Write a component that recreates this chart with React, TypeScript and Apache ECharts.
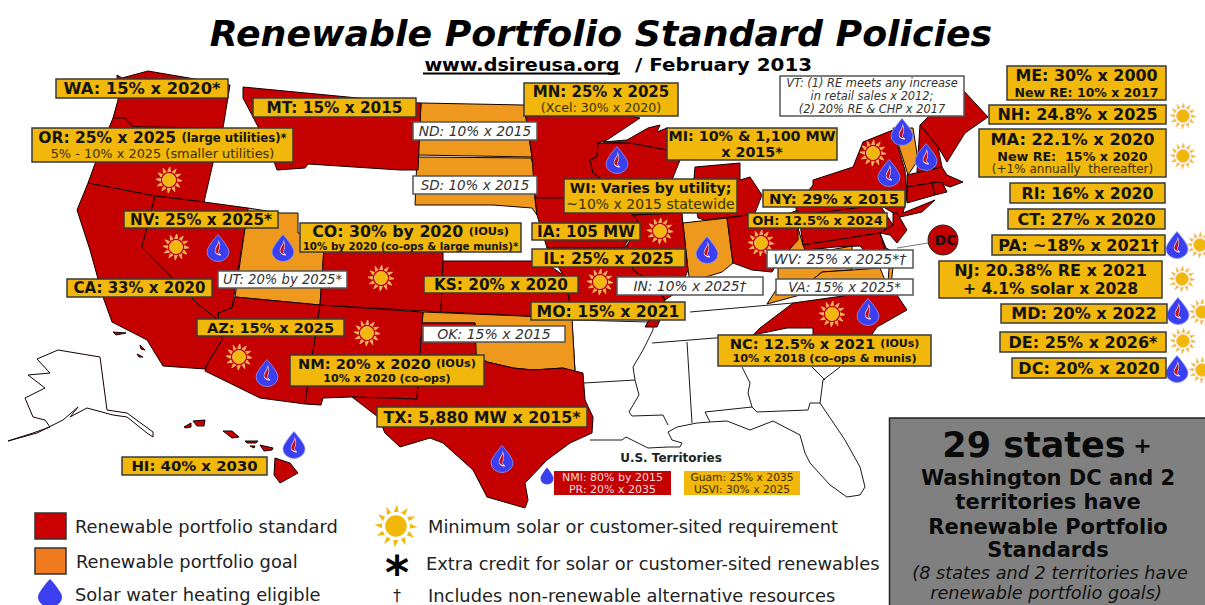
import React, { useEffect, useRef } from "react";
import * as echarts from "echarts";

const FONT = "'DejaVu Sans', Verdana, sans-serif";
const RED = "#c40000";
const ORANGE = "#ee981e";
const GOLD = "#f1b70a";
const INK = "#141414";

type P = [number, number];

// ---- state outlines, in picture units
const standardStates: Record<string, P[]> = {
  WA: [[117,75],[122,78],[148,71],[230,85],[223,128],[133,127],[125,118],[113,118],[118,100]],
  OR: [[113,118],[125,118],[133,127],[223,128],[213,163],[204,202],[155,196],[88,183],[100,150]],
  CA: [[88,183],[155,196],[142,247],[197,303],[218,320],[218,313],[222,340],[208,363],[205,369],[163,366],[147,340],[112,322],[103,297],[90,250],[77,210]],
  NV: [[155,196],[204,202],[248,208],[232,308],[218,313],[218,320],[197,303],[142,247]],
  AZ: [[235,297],[320,305],[305,404],[260,398],[205,371],[208,363],[222,340],[218,313],[232,308]],
  NM: [[320,305],[423,312],[417,399],[352,397],[323,398],[321,405],[305,404]],
  CO: [[325,232],[443,240],[443,262],[441,312],[320,305]],
  KS: [[443,261],[533,261],[553,268],[563,275],[568,293],[572,318],[441,312]],
  MT: [[243,87],[400,102],[421,103],[418,170],[400,170],[308,164],[305,168],[277,170],[270,150],[253,117],[243,98]],
  TX: [[352,397],[417,399],[422,323],[475,323],[476,355],[487,362],[513,368],[533,370],[563,368],[583,373],[585,400],[593,417],[592,433],[570,443],[547,460],[525,483],[528,500],[525,508],[487,497],[473,470],[443,443],[430,438],[400,447],[385,433],[378,417]],
  MN: [[524,105],[600,110],[640,118],[607,140],[598,143],[597,157],[590,160],[593,173],[600,178],[612,198],[535,198],[532,157],[530,143]],
  WI: [[598,143],[630,143],[667,150],[680,160],[672,180],[675,205],[668,213],[633,215],[612,198],[600,178],[593,173],[590,160],[597,157]],
  MI_UP: [[603,142],[627,140],[648,128],[660,125],[657,132],[667,128],[700,135],[680,150],[667,150],[630,143]],
  MI: [[695,167],[740,163],[740,180],[750,177],[762,195],[755,213],[748,215],[705,220],[698,218],[693,190]],
  IA: [[535,198],[612,198],[633,215],[640,225],[627,242],[623,248],[547,248],[537,215]],
  IL: [[633,215],[682,213],[683,225],[688,270],[680,290],[665,300],[655,285],[633,270],[627,245],[640,225]],
  MO: [[547,248],[623,248],[627,245],[633,270],[655,285],[665,300],[660,320],[657,327],[645,327],[649,320],[572,318],[568,293],[563,275],[553,258]],
  OH: [[727,218],[748,215],[785,215],[798,210],[798,240],[778,262],[772,272],[752,270],[733,263]],
  PA: [[798,210],[880,205],[893,225],[880,233],[803,245]],
  NY: [[795,207],[813,185],[813,180],[853,167],[863,142],[893,130],[905,170],[907,197],[903,213],[935,200],[922,212],[900,217],[880,205],[800,215]],
  NJ: [[893,213],[897,213],[907,230],[897,243],[890,235],[880,233],[893,225]],
  MD: [[803,245],[880,233],[885,250],[890,262],[878,258],[868,255],[860,246],[835,247],[805,250]],
  DE: [[880,233],[886,248],[890,250],[885,250]],
  NC: [[753,335],[760,328],[793,303],[850,295],[897,295],[907,310],[877,327],[868,340],[813,340],[813,328],[787,328]],
  ME: [[920,125],[930,115],[945,105],[963,90],[988,117],[965,133],[947,162],[938,147]],
  NH: [[920,125],[938,147],[942,167],[917,172],[918,155]],
  MA: [[907,175],[942,167],[947,175],[963,182],[950,187],[937,182],[907,187]],
  CT: [[907,187],[932,183],[935,195],[907,203]],
  RI: [[932,183],[942,182],[947,192],[935,195]],
  HI_Niihau: [[184,427],[191,423],[191,427],[186,428]],
  HI_Kauai: [[193,421],[205,420],[204,426],[197,426]],
  HI_Oahu: [[223,431],[232,431],[239,437],[232,438]],
  HI_Molokai: [[245,441],[258,441],[256,443],[247,443]],
  HI_Lanai: [[250,446],[255,446],[254,448]],
  HI_Maui: [[260,445],[273,448],[272,450],[264,451]],
  HI_Big: [[275,458],[290,463],[298,473],[280,483],[274,475]],
  CA_Isle1: [[113,332],[126,333],[116,335]],
  CA_Isle2: [[140,345],[145,350],[141,349]],
  CA_Isle3: [[137,354],[143,357],[139,357]],
};

const goalStates: Record<string, P[]> = {
  ND: [[421,103],[524,105],[530,143],[532,157],[418,155]],
  SD: [[417,157],[531,158],[535,170],[535,198],[537,215],[532,208],[493,205],[415,205]],
  UT: [[248,208],[280,213],[298,213],[298,233],[325,237],[320,305],[235,297]],
  OK: [[423,312],[572,318],[575,372],[563,368],[533,370],[513,368],[487,362],[476,355],[475,323],[422,323]],
  IN: [[683,223],[727,218],[733,263],[722,272],[690,282],[688,270]],
  WV: [[798,228],[803,245],[830,250],[852,246],[852,270],[822,272],[800,290],[778,280],[778,262],[797,240]],
  VA: [[767,304],[776,290],[800,290],[822,272],[852,270],[880,268],[887,285],[865,295],[800,295]],
  VA_Shore: [[889,268],[893,268],[891,284],[888,283]],
  VT: [[893,128],[913,128],[918,160],[908,175],[905,165]],
};

const akOutline: P[] = [[8,441],[33,433],[50,427],[45,420],[33,417],[25,398],[45,388],[28,375],[50,373],[37,359],[58,350],[100,357],[107,410],[127,413],[153,432],[153,437],[147,433],[127,417],[113,415],[87,408],[70,417],[78,407],[63,420],[37,433],[8,441]];

const southernLines: P[][] = [
  [[572,322],[575,370]],
  [[572,320],[649,322]],
  [[584,383],[635,380]],
  [[653,320],[653,330],[643,350],[633,367],[635,380],[639,395],[629,412],[632,416],[663,415],[668,425]],
  [[652,343],[753,335]],
  [[690,312],[793,303]],
  [[687,342],[692,423]],
  [[590,440],[622,440],[626,437],[648,448],[668,447],[680,447],[682,443],[672,440],[668,432],[677,427],[697,423],[710,422],[727,421],[750,430],[773,421],[800,435],[805,453],[810,463],[830,485],[847,497],[860,495],[865,487],[860,467],[845,440],[820,403],[823,380],[840,367]],
  [[705,412],[752,407],[757,412],[808,410],[810,403],[820,403]],
  [[705,412],[710,422]],
  [[742,367],[750,383],[748,393],[752,407]],
  [[812,367],[825,380]],
];

// ---- icon positions
const sunPoints: P[] = [[169,180],[176,247],[381,278],[239,357],[367,333],[660,231],[600,282],[761,243],[873,153],[832,314],[1183,116],[1183,156],[1200,245],[1182,279],[1202,312],[1183,341],[1202,370]];
const dropPoints: P[] = [[218,248],[283,248],[617,160],[707,250],[889,173],[902,132],[926,157],[868,312],[267,373],[502,459],[294,445],[1177,245],[1178,311],[1177,369]];
const smallDropPoints: P[] = [[547,476]];
const legendSunPoints: P[] = [[396,526]];
const legendDropPoints: P[] = [[50,593]];

// ---- texts
const titleText = "Renewable Portfolio Standard Policies";
const siteText = "www.dsireusa.org";
const dateText = "/ February 2013";
const territoriesTitle = "U.S. Territories";
const legendTexts = ["Renewable portfolio standard", "Renewable portfolio goal", "Solar water heating eligible", "Minimum solar or customer-sited requirement", "Extra credit for solar or customer-sited renewables", "Includes non-renewable alternative resources"];
const summaryLines = ["Washington DC and 2", "territories have", "Renewable Portfolio", "Standards"];
const summaryNotes = ["(8 states and 2 territories have", "renewable portfolio goals)"];

type Line = { t: string; s: number; y: number; b?: boolean; i?: boolean; extra?: string; es?: number; eb?: boolean; c?: string };
type Box = { box: [number, number, number, number]; kind: "gold" | "white" | "red" | "goldFlat"; lines: Line[] };

const policyBoxes: Box[] = [
  { box: [56,79,172,19], kind: "gold", lines: [{ t: "WA: 15% x 2020*", s: 16.3, y: 0, b: true }] },
  { box: [253,98,163,19], kind: "gold", lines: [{ t: "MT: 15% x 2015", s: 15.3, y: 0, b: true }] },
  { box: [32,128,261,34], kind: "gold", lines: [{ t: "OR: 25% x 2025 ", s: 15.5, y: -7, b: true, extra: "(large utilities)*", es: 11.7, eb: true }, { t: "5% - 10% x 2025 (smaller utilities)", s: 12.9, y: 8 }] },
  { box: [124,211,154,17], kind: "gold", lines: [{ t: "NV: 25% x 2025*", s: 15.2, y: 0, b: true }] },
  { box: [300,223,221,29], kind: "gold", lines: [{ t: "CO: 30% by 2020 ", s: 15.8, y: -6, b: true, extra: "(IOUs)", es: 11.3, eb: true }, { t: "10% by 2020 (co-ops & large munis)*", s: 10.3, y: 8, b: true }] },
  { box: [218,271,129,17], kind: "white", lines: [{ t: "UT: 20% by 2025*", s: 13.2, y: 0, i: true }] },
  { box: [67,279,145,18], kind: "gold", lines: [{ t: "CA: 33% x 2020", s: 15, y: 0, b: true }] },
  { box: [197,319,147,17], kind: "gold", lines: [{ t: "AZ: 15% x 2025", s: 14.5, y: 0, b: true }] },
  { box: [290,355,194,31], kind: "gold", lines: [{ t: "NM: 20% x 2020 ", s: 14.6, y: -7, b: true, extra: "(IOUs)", es: 11.3, eb: true }, { t: "10% x 2020 (co-ops)", s: 11.1, y: 8, b: true }] },
  { box: [377,407,210,20], kind: "gold", lines: [{ t: "TX: 5,880 MW x 2015*", s: 15.8, y: 0, b: true }] },
  { box: [122,457,145,18], kind: "gold", lines: [{ t: "HI: 40% x 2030", s: 14.9, y: 0, b: true }] },
  { box: [413,122,124,18], kind: "white", lines: [{ t: "ND: 10% x 2015", s: 13.8, y: 0, i: true }] },
  { box: [413,176,124,18], kind: "white", lines: [{ t: "SD: 10% x 2015", s: 13.5, y: 0, i: true }] },
  { box: [524,83,154,33], kind: "gold", lines: [{ t: "MN: 25% x 2025", s: 15, y: -8, b: true }, { t: "(Xcel: 30% x 2020)", s: 12.6, y: 8 }] },
  { box: [564,179,173,34], kind: "gold", lines: [{ t: "WI: Varies by utility;", s: 14, y: -8, b: true }, { t: "~10% x 2015 statewide", s: 14, y: 8 }] },
  { box: [667,128,170,32], kind: "gold", lines: [{ t: "MI: 10% & 1,100 MW", s: 14.3, y: -8, b: true }, { t: "x 2015*", s: 14.3, y: 8, b: true }] },
  { box: [532,223,108,17], kind: "gold", lines: [{ t: "IA: 105 MW", s: 15.2, y: 0, b: true }] },
  { box: [532,249,153,18], kind: "gold", lines: [{ t: "IL: 25% x 2025", s: 15.8, y: 0, b: true }] },
  { box: [424,276,154,17], kind: "gold", lines: [{ t: "KS: 20% x 2020", s: 15.3, y: 0, b: true }] },
  { box: [617,277,146,18], kind: "white", lines: [{ t: "IN: 10% x 2025†", s: 13.8, y: 0, i: true }] },
  { box: [531,302,154,18], kind: "gold", lines: [{ t: "MO: 15% x 2021", s: 15.7, y: 0, b: true }] },
  { box: [423,326,142,16], kind: "white", lines: [{ t: "OK: 15% x 2015", s: 14, y: 0, i: true }] },
  { box: [763,190,142,17], kind: "gold", lines: [{ t: "NY: 29% x 2015", s: 14.9, y: 0, b: true }] },
  { box: [748,213,139,15], kind: "gold", lines: [{ t: "OH: 12.5% x 2024", s: 13, y: 0, b: true }] },
  { box: [767,250,146,18], kind: "white", lines: [{ t: "WV: 25% x 2025*†", s: 14.3, y: 0, i: true }] },
  { box: [776,279,137,16], kind: "white", lines: [{ t: "VA: 15% x 2025*", s: 13.3, y: 0, i: true }] },
  { box: [780,76,184,40], kind: "white", lines: [{ t: "VT: (1) RE meets any increase", s: 11.4, y: -13, i: true }, { t: "in retail sales x 2012;", s: 11.4, y: 0, i: true }, { t: "(2) 20% RE & CHP x 2017", s: 11.4, y: 13, i: true }] },
  { box: [718,335,213,31], kind: "gold", lines: [{ t: "NC: 12.5% x 2021 ", s: 14.7, y: -7, b: true, extra: "(IOUs)", es: 11, eb: true }, { t: "10% x 2018 (co-ops & munis)", s: 11.2, y: 8, b: true }] },
  { box: [1007,66,159,34], kind: "gold", lines: [{ t: "ME: 30% x 2000", s: 15.9, y: -8, b: true }, { t: "New RE: 10% x 2017", s: 12.5, y: 9, b: true }] },
  { box: [989,105,177,19], kind: "gold", lines: [{ t: "NH: 24.8% x 2025", s: 16, y: 0, b: true }] },
  { box: [979,129,187,48], kind: "gold", lines: [{ t: "MA: 22.1% x 2020", s: 16.2, y: -14, b: true }, { t: "New RE:  15% x 2020", s: 12.7, y: 3, b: true }, { t: "(+1% annually  thereafter)", s: 12, y: 16 }] },
  { box: [1010,183,155,20], kind: "gold", lines: [{ t: "RI: 16% x 2020", s: 15.7, y: 0, b: true }] },
  { box: [1008,209,157,20], kind: "gold", lines: [{ t: "CT: 27% x 2020", s: 16, y: 0, b: true }] },
  { box: [992,235,173,20], kind: "gold", lines: [{ t: "PA: ~18% x 2021†", s: 16, y: 0, b: true }] },
  { box: [939,261,223,37], kind: "gold", lines: [{ t: "NJ: 20.38% RE x 2021", s: 16, y: -9, b: true }, { t: "+ 4.1% solar x 2028", s: 15.6, y: 9, b: true }] },
  { box: [1001,304,166,19], kind: "gold", lines: [{ t: "MD: 20% x 2022", s: 16, y: 0, b: true }] },
  { box: [1000,332,166,20], kind: "gold", lines: [{ t: "DE: 25% x 2026*", s: 16, y: 0, b: true }] },
  { box: [1012,358,154,20], kind: "gold", lines: [{ t: "DC: 20% x 2020", s: 16, y: 0, b: true }] },
  { box: [554,471,117,24], kind: "red", lines: [{ t: "NMI: 80% by 2015", s: 11, y: -6, c: "#f6d9d9" }, { t: "PR: 20% x 2035", s: 11, y: 6, c: "#f6d9d9" }] },
  { box: [684,471,116,24], kind: "goldFlat", lines: [{ t: "Guam: 25% x 2035", s: 10.7, y: -6, c: "#3a2c00" }, { t: "USVI: 30% x 2025", s: 10.7, y: 6, c: "#3a2c00" }] },
];

const dropPath = "path://M12 0 C12 0 24 15 24 21 A12 12 0 0 1 0 21 C0 15 12 0 12 0 Z";
const dropShine = "path://M6 0 C6 6 2 9 1 15 C0 20 4 24 9 24 C5 22 5 18 7 12 C8 8 7 3 6 0 Z";

const sunPath = (() => {
  const rays = 12;
  let d = "";
  const c = 50;
  for (let k = 0; k < rays; k++) {
    const a = (k / rays) * Math.PI * 2;
    const pt = (r: number, o: number) => `${(c + r * Math.cos(a + o)).toFixed(2)} ${(c + r * Math.sin(a + o)).toFixed(2)}`;
    d += `M${pt(33, -0.16)} L${pt(50, 0.06)} L${pt(33, 0.18)} Z `;
  }
  d += `M${c - 25} ${c} A25 25 0 1 0 ${c + 25} ${c} A25 25 0 1 0 ${c - 25} ${c} Z`;
  return "path://" + d;
})();

function buildGraphics() {
  const els: any[] = [];
  let z = 100;
  const txt = (x: number, y: number, text: string, size: number, o: any = {}) =>
    els.push({
      type: "text", x, y, z: z++, silent: true, scaleX: o.sx || 1,
      style: {
        text, fontFamily: FONT, fontSize: size, fontWeight: o.b ? "bold" : "normal", fontStyle: o.i ? "italic" : "normal",
        fill: o.c || INK, align: o.align || "center", verticalAlign: "middle", rich: o.rich,
      },
    });
  const rect = (x: number, y: number, w: number, h: number, fill: string, stroke?: string, lw = 1) =>
    els.push({ type: "rect", z: z++, silent: true, shape: { x, y, width: w, height: h }, style: { fill, stroke, lineWidth: lw } });
  const line = (x1: number, y1: number, x2: number, y2: number, stroke: string, lw: number) =>
    els.push({ type: "line", z: z++, silent: true, shape: { x1, y1, x2, y2 }, style: { stroke, lineWidth: lw } });

  // heading
  txt(601, 33, titleText, 36.3, { b: true, i: true, c: "#000" });
  txt(522, 65, siteText, 17, { b: true, c: "#000", sx: 1.13 });
  line(423, 73.5, 620, 73.5, "#000", 2);
  txt(723.5, 65, dateText, 17, { b: true, c: "#000", sx: 1.17 });

  // DC marker
  line(928, 243, 897, 248, "#777", 1);
  els.push({ type: "circle", z: z++, silent: true, shape: { cx: 943, cy: 240, r: 15 }, style: { fill: RED, stroke: "#222", lineWidth: 1 } });
  txt(945.5, 240, "DC", 14, { b: true });

  // boxes
  for (const b of policyBoxes) {
    const [x, y, w, h] = b.box;
    const fill = b.kind === "white" ? "#fff" : b.kind === "red" ? "#c40000" : GOLD;
    const stroke = b.kind === "white" ? "#555" : b.kind === "red" || b.kind === "goldFlat" ? undefined : "#3a3a3a";
    rect(x, y, w, h, fill, stroke, 1.5);
    for (const l of b.lines) {
      const cy = y + h / 2 + l.y;
      if (l.extra) {
        txt(x + w / 2, cy, `{a|${l.t}}{e|${l.extra}}`, l.s, {
          rich: {
            a: { fontFamily: FONT, fontSize: l.s, fontWeight: "bold", fill: INK },
            e: { fontFamily: FONT, fontSize: l.es, fontWeight: l.eb ? "bold" : "normal", fill: INK },
          },
        });
      } else {
        txt(x + w / 2, cy, l.t, l.s, { b: l.b, i: l.i, c: l.c || (b.kind === "white" ? "#333" : l.b ? INK : "#3a3000") });
      }
    }
  }
  txt(671, 458, territoriesTitle, 12, { b: true, c: "#222" });

  // legend
  rect(35, 513, 31, 26, "#cc0000", "#333", 1.5);
  rect(35, 548, 31, 26, "#f07a1e", "#333", 1.5);
  txt(75, 526, legendTexts[0], 17.85, { align: "left", c: "#222" });
  txt(76, 561, legendTexts[1], 17.85, { align: "left", c: "#222" });
  txt(75, 594, legendTexts[2], 17.85, { align: "left", c: "#222" });
  txt(428, 526, legendTexts[3], 17.85, { align: "left", c: "#222" });
  txt(426, 563, legendTexts[4], 17.85, { align: "left", c: "#222" });
  txt(428, 595, legendTexts[5], 17.85, { align: "left", c: "#222" });
  txt(397, 573, "*", 46, { b: true, c: "#000" });
  txt(397, 595, "†", 16, { c: "#222" });

  // summary panel
  rect(889.5, 418, 320, 190, "#808080", "#222", 1.5);
  txt(1047, 445, "{a|29 states}{b| +}", 35, {
    rich: {
      a: { fontFamily: FONT, fontSize: 35, fontWeight: "bold", fill: "#0a0a0a" },
      b: { fontFamily: FONT, fontSize: 22, fontWeight: "bold", fill: "#0a0a0a" },
    },
  });
  [478, 502, 527, 550].forEach((y, i) => txt(1048, y, summaryLines[i], 21, { b: true, c: "#0a0a0a" }));
  txt(1050, 573, summaryNotes[0], 17.7, { i: true, c: "#111" });
  txt(1046, 593, summaryNotes[1], 17.7, { i: true, c: "#111" });
  return els;
}

const polyNames = [
  ...Object.keys(goalStates).map((k) => ({ pts: goalStates[k], fill: ORANGE })),
  ...Object.keys(standardStates).map((k) => ({ pts: standardStates[k], fill: RED })),
];

function polySeries(items: { pts: P[]; fill: string }[], z: number) {
  return {
    type: "custom", coordinateSystem: "cartesian2d", z, silent: true, clip: false,
    data: items.map((_, i) => [i]),
    encode: { x: 0, y: 0 },
    renderItem: (params: any, api: any) => {
      const it = items[api.value(0)];
      return {
        type: "polygon",
        shape: { points: it.pts.map((p) => api.coord(p)) },
        style: { fill: it.fill, stroke: "#140000", lineWidth: 1 },
      };
    },
  };
}

function lineSeries(items: P[][], z: number) {
  return {
    type: "custom", coordinateSystem: "cartesian2d", z, silent: true, clip: false,
    data: items.map((_, i) => [i]),
    encode: { x: 0, y: 0 },
    renderItem: (params: any, api: any) => ({
      type: "polyline",
      shape: { points: items[api.value(0)].map((p) => api.coord(p)) },
      style: { fill: "none", stroke: "#1a1a1a", lineWidth: 1 },
    }),
  };
}

function iconSeries(data: P[], symbol: string, size: any, itemStyle: any, z: number) {
  return { type: "scatter", data, symbol, symbolSize: size, itemStyle, z, silent: true, clip: false };
}

export default function App() {
  const ref = useRef<HTMLDivElement>(null);
  useEffect(() => {
    document.body.style.margin = "0";
    const chart = echarts.init(ref.current!, undefined, { renderer: "svg" });
    const sunStyle = { color: GOLD, borderColor: "#f6c48a", borderWidth: 0.8, opacity: 1 };
    chart.setOption({
      animation: false,
      backgroundColor: "#fff",
      grid: { left: 0, right: 0, top: 0, bottom: 0 },
      xAxis: { type: "value", min: 0, max: 1205, show: false },
      yAxis: { type: "value", min: 0, max: 605, inverse: true, show: false },
      tooltip: { show: false },
      series: [
        lineSeries(southernLines, 2),
        polySeries([{ pts: akOutline, fill: "#fff" }], 3),
        polySeries(polyNames, 4),
        iconSeries(sunPoints, sunPath, 26, sunStyle, 6),
        iconSeries(dropPoints, dropPath, [22, 27], { color: "#3a3ff0", borderColor: "#8f9af5", borderWidth: 0.8, opacity: 1 }, 6),
        iconSeries(dropPoints, dropShine, [6, 14], { color: "#c01020", borderColor: "#f4e4ea", borderWidth: 0.8, opacity: 1 }, 7),
        iconSeries(smallDropPoints, dropPath, [13, 17], { color: "#3a3ff0", opacity: 1 }, 6),
        iconSeries(legendSunPoints, sunPath, 43, { color: GOLD, opacity: 1 }, 6),
        iconSeries(legendDropPoints, dropPath, [24, 28], { color: "#3a3ff0", opacity: 1 }, 6),
      ],
      graphic: { elements: buildGraphics() },
    });
    return () => chart.dispose();
  }, []);
  return <div ref={ref} style={{ position: "fixed", left: 0, top: 0, width: 1205, height: 605 }} />;
}
